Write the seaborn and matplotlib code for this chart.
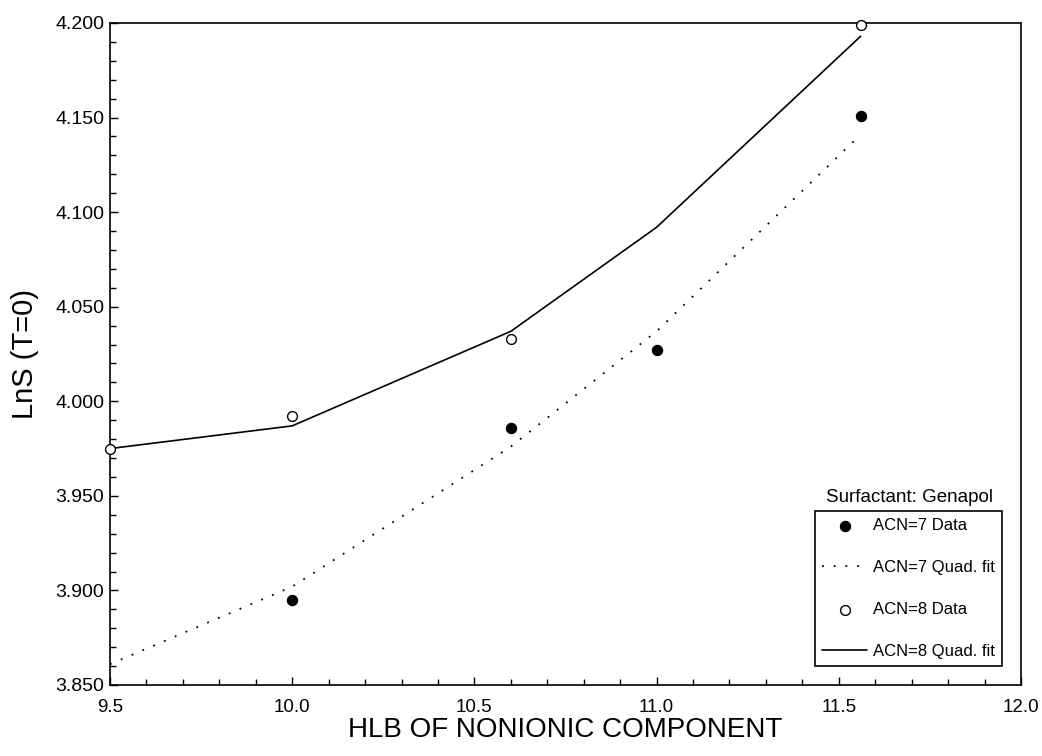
import matplotlib
matplotlib.use("Agg")
import matplotlib.pyplot as plt
from matplotlib.ticker import MultipleLocator, FormatStrFormatter
import seaborn as sns
import pandas as pd

# ACN=7 measurements
hlb_acn7 = [10.0, 10.6, 11.0, 11.56]
lns_acn7 = [3.895, 3.986, 4.027, 4.151]

# ACN=8 measurements
hlb_acn8 = [9.5, 10.0, 10.6, 11.56]
lns_acn8 = [3.975, 3.992, 4.033, 4.199]

# Quadratic fits evaluated at the HLB grid
hlb_fit = [9.5, 10.0, 10.6, 11.0, 11.56]
fit_acn7 = [3.861, 3.902, 3.976, 4.037, 4.141]
fit_acn8 = [3.975, 3.987, 4.037, 4.092, 4.193]

x_ticks = [9.5, 10.0, 10.5, 11.0, 11.5, 12.0]
y_ticks = [3.850, 3.900, 3.950, 4.000, 4.050, 4.100, 4.150, 4.200]

sns.set_style("ticks")
plt.rcParams["font.family"] = ["Liberation Sans", "DejaVu Sans"]
plt.rcParams["text.color"] = "black"
plt.rcParams["axes.labelcolor"] = "black"
plt.rcParams["xtick.color"] = "black"
plt.rcParams["ytick.color"] = "black"

fig = plt.figure(figsize=(10.42, 7.56), dpi=100)
ax = fig.add_axes([110 / 1042, 1 - 685 / 756, 911 / 1042, 662 / 756])

d7 = pd.DataFrame({"HLB": hlb_acn7, "LnS": lns_acn7})
d8 = pd.DataFrame({"HLB": hlb_acn8, "LnS": lns_acn8})
f7 = pd.DataFrame({"HLB": hlb_fit, "LnS": fit_acn7})
f8 = pd.DataFrame({"HLB": hlb_fit, "LnS": fit_acn8})

sns.lineplot(data=f7, x="HLB", y="LnS", ax=ax, color="black", lw=1.3,
             linestyle=(0, (1, 5.5)), label="ACN=7 Quad. fit", sort=True)
sns.lineplot(data=f8, x="HLB", y="LnS", ax=ax, color="black", lw=1.2,
             label="ACN=8 Quad. fit", sort=True)
sns.scatterplot(data=d7, x="HLB", y="LnS", ax=ax, color="black", s=55,
                edgecolor="black", linewidth=0.8, label="ACN=7 Data",
                clip_on=False, zorder=5)
sns.scatterplot(data=d8, x="HLB", y="LnS", ax=ax, facecolor="white", s=50,
                edgecolor="black", linewidth=1.0, label="ACN=8 Data",
                clip_on=False, zorder=5)

ax.set_xlim(9.5, 12.0)
ax.set_ylim(3.85, 4.20)
ax.set_xticks(x_ticks)
ax.set_yticks(y_ticks)
ax.xaxis.set_major_formatter(FormatStrFormatter("%.1f"))
ax.yaxis.set_major_formatter(FormatStrFormatter("%.3f"))
ax.xaxis.set_minor_locator(MultipleLocator(0.1))
ax.yaxis.set_minor_locator(MultipleLocator(0.01))
ax.tick_params(which="both", direction="in", top=False, right=False,
               colors="black", width=1.0)
ax.tick_params(which="major", length=6)
ax.tick_params(which="minor", length=4)
ax.tick_params(axis="y", labelsize=14, pad=4)
ax.tick_params(axis="x", labelsize=13.5, pad=10)

for sp in ax.spines.values():
    sp.set_visible(True)
    sp.set_color("black")
    sp.set_linewidth(1.2)

ax.set_xlabel("HLB OF NONIONIC COMPONENT", fontsize=20, labelpad=1)
ax.set_ylabel("LnS (T=0)", fontsize=21, labelpad=12)

handles, labels = ax.get_legend_handles_labels()
lookup = dict(zip(labels, handles))
order = ["ACN=7 Data", "ACN=7 Quad. fit", "ACN=8 Data", "ACN=8 Quad. fit"]
leg = ax.legend([lookup[k] for k in order], order, loc="lower right",
                bbox_to_anchor=(892 / 911, 19 / 662), fontsize=12,
                frameon=True, fancybox=False, framealpha=1, edgecolor="black",
                handlelength=2.7, handletextpad=0.35, labelspacing=1.62,
                borderpad=0.42, borderaxespad=0)
leg.get_frame().set_linewidth(1.2)
ax.text((909 - 110) / 911, (685 - 498) / 662, "Surfactant: Genapol",
        transform=ax.transAxes, ha="center", va="center", fontsize=13.5)

fig.savefig("out.png", dpi=100)
